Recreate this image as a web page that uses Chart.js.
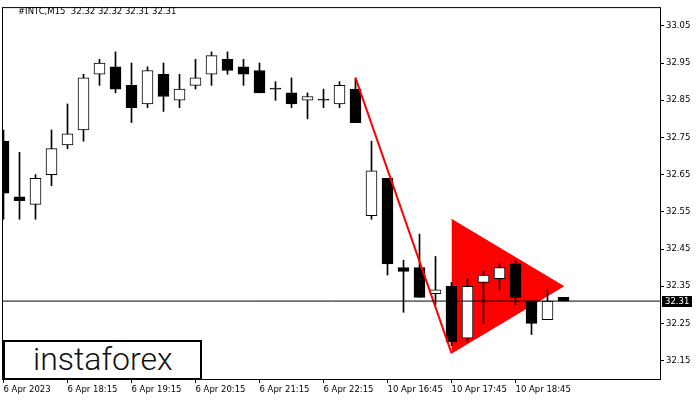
<!DOCTYPE html>
<html>
<head>
<meta charset="utf-8">
<script src="https://cdn.jsdelivr.net/npm/chart.js@4.4.0/dist/chart.umd.min.js"></script>
<style>
  html, body { margin: 0; padding: 0; background: #fff; }
  #wrap { position: relative; width: 700px; height: 400px; }
  #title { position: absolute; left: 18px; top: 6px; font: 8.5px "DejaVu Sans"; color: #000; white-space: pre; }
  #logo { position: absolute; left: 3px; top: 340px; width: 195px; height: 36px; border: 2px solid #000; background: #fff; }
  #logo span { display: block; padding-left: 28px; font: 300 32px Roboto; line-height: 35px; color: #111; }
</style>
</head>
<body>
<div id="wrap">
  <canvas id="candles" width="700" height="400"></canvas>
  <div id="title">#INTC,M15  32.32 32.32 32.31 32.31</div>
  <div id="logo"><span>instaforex</span></div>
</div>
<script>
// M15 candles, 6 Apr 17:15 .. 10 Apr 19:30
var opens  = [32.74, 32.59, 32.57, 32.65, 32.73, 32.77, 32.92, 32.94, 32.89, 32.84, 32.92, 32.85,
              32.89, 32.92, 32.96, 32.94, 32.93, 32.88, 32.87, 32.85, 32.85, 32.84, 32.88, 32.54,
              32.64, 32.40, 32.40, 32.33, 32.35, 32.21, 32.36, 32.37, 32.41, 32.31, 32.26, 32.32];
var highs  = [32.77, 32.71, 32.65, 32.77, 32.84, 32.92, 32.96, 32.98, 32.95, 32.94, 32.95, 32.92,
              32.96, 32.98, 32.98, 32.96, 32.95, 32.90, 32.91, 32.87, 32.88, 32.90, 32.91, 32.74,
              32.64, 32.42, 32.49, 32.43, 32.36, 32.37, 32.39, 32.41, 32.42, 32.31, 32.34, 32.32];
var lows   = [32.53, 32.53, 32.53, 32.62, 32.72, 32.74, 32.89, 32.87, 32.79, 32.83, 32.82, 32.83,
              32.88, 32.89, 32.92, 32.89, 32.87, 32.85, 32.83, 32.80, 32.83, 32.83, 32.79, 32.53,
              32.38, 32.28, 32.32, 32.30, 32.19, 32.20, 32.25, 32.34, 32.30, 32.22, 32.26, 32.31];
var closes = [32.60, 32.58, 32.64, 32.72, 32.76, 32.91, 32.95, 32.88, 32.83, 32.93, 32.86, 32.88,
              32.91, 32.97, 32.93, 32.92, 32.87, 32.88, 32.84, 32.86, 32.85, 32.89, 32.79, 32.66,
              32.41, 32.39, 32.32, 32.34, 32.20, 32.35, 32.38, 32.40, 32.32, 32.25, 32.31, 32.31];

var tickLabels = ["6 Apr 2023", "6 Apr 18:15", "6 Apr 19:15", "6 Apr 20:15", "6 Apr 21:15",
                  "6 Apr 22:15", "10 Apr 16:45", "10 Apr 17:45", "10 Apr 18:45"];
var priceTicks = [32.15, 32.25, 32.35, 32.45, 32.55, 32.65, 32.75, 32.85, 32.95, 33.05];

// bearish pennant: pole + triangle
var poleIdx = [22, 28];
var polePrice = [32.91, 32.17];
var pennantIdx = [28, 35];
var pennantUpper = [32.53, 32.35];
var pennantLower = [32.17, 32.35];

var xMin = -0.09375, xMax = 41.09375;
var last = closes[closes.length - 1];

var wickData = closes.map(function (c, i) { return { x: i, y: [lows[i], highs[i]] }; });
var bodyData = closes.map(function (c, i) { return { x: i, y: [opens[i], c] }; });
var bodyFill = closes.map(function (c, i) { return c > opens[i] ? "#ffffff" : "#000000"; });

function pts(xs, ys) { return xs.map(function (x, i) { return { x: x, y: ys[i] }; }); }

var frame = {
  id: "frame",
  afterDraw: function (chart) {
    var c = chart.ctx, a = chart.chartArea;
    c.save();
    c.strokeStyle = "#000";
    c.lineWidth = 1;
    c.strokeRect(a.left + 0.5, a.top + 0.5, a.right - a.left - 1, a.bottom - a.top);
    var y = chart.scales.y.getPixelForValue(last);
    c.fillStyle = "#000";
    c.fillRect(a.right + 1, Math.round(y) - 5, 30, 11);
    c.fillStyle = "#fff";
    c.font = '8.5px "DejaVu Sans"';
    c.textBaseline = "middle";
    c.fillText(last.toFixed(2), a.right + 4, Math.round(y) + 0.5);
    c.restore();
  }
};

Chart.defaults.color = "#000";
Chart.defaults.font.family = "DejaVu Sans";
Chart.defaults.font.size = 8.5;

new Chart(document.getElementById("candles"), {
  type: "bar",
  data: {
    datasets: [
      { type: "line", data: [{ x: xMin, y: last }, { x: xMax, y: last }],
        borderColor: "#000", borderWidth: 1, pointRadius: 0, fill: false, order: 0 },
      { type: "line", data: pts(poleIdx, polePrice),
        borderColor: "#ff0000", borderWidth: 2, pointRadius: 0, fill: false, order: 1 },
      { data: bodyData, backgroundColor: bodyFill, borderColor: "#000", borderWidth: 1,
        borderSkipped: false, barThickness: 11, minBarLength: 1, grouped: false, order: 2 },
      { data: wickData, backgroundColor: "#000", borderWidth: 0,
        barThickness: 1, grouped: false, order: 3 },
      { type: "line", data: pts(pennantIdx, pennantUpper),
        borderColor: "#ff0000", borderWidth: 1, pointRadius: 0, fill: false, order: 4 },
      { type: "line", data: pts(pennantIdx, pennantLower),
        borderColor: "#ff0000", backgroundColor: "#ff0000", borderWidth: 1, pointRadius: 0,
        fill: "-1", order: 4 }
    ]
  },
  options: {
    responsive: false,
    animation: false,
    layout: { padding: { left: 2, top: 3, right: 0, bottom: 0 } },
    plugins: { legend: { display: false }, tooltip: { enabled: false } },
    scales: {
      x: {
        type: "linear", min: xMin, max: xMax, offset: false,
        grid: { drawOnChartArea: false, drawTicks: true, tickLength: 4, color: "#000", offset: false },
        border: { display: false },
        afterBuildTicks: function (s) { s.ticks = tickLabels.map(function (t, k) { return { value: k * 4 }; }); },
        afterFit: function (s) { s.height = 21; },
        ticks: { autoSkip: false, maxRotation: 0, align: "start", padding: 2,
                 callback: function (v) { return tickLabels[v / 4]; } }
      },
      y: {
        position: "right", min: 32.1005, max: 33.1005,
        grid: { drawOnChartArea: false, drawTicks: true, tickLength: 3, color: "#000" },
        border: { display: false },
        afterBuildTicks: function (s) { s.ticks = priceTicks.map(function (v) { return { value: v }; }); },
        afterFit: function (s) { s.width = 39; },
        ticks: { padding: 2, callback: function (v) { return v.toFixed(2); } }
      }
    }
  },
  plugins: [frame]
});
</script>
</body>
</html>
